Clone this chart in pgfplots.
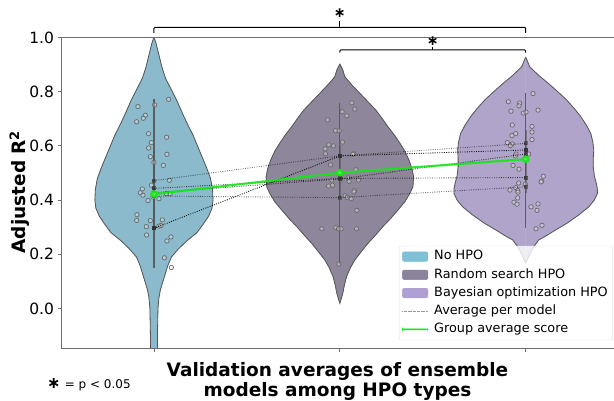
\documentclass[border=0pt]{standalone}
\usepackage{pgfplots}
\pgfplotsset{compat=1.18}
\usepackage{pgfplotstable}
\usepackage{fontspec}
\setmainfont{DejaVu Sans}
\definecolor{vA}{RGB}{138,186,203}
\definecolor{vB}{RGB}{142,135,155}
\definecolor{vC}{RGB}{176,164,203}
\definecolor{lA}{RGB}{128,192,214}
\definecolor{lB}{RGB}{140,130,155}
\definecolor{lC}{RGB}{176,160,210}
\definecolor{spine}{RGB}{110,110,110}
\definecolor{vedge}{RGB}{85,85,85}
\definecolor{grpgreen}{RGB}{20,232,20}
\definecolor{ptedge}{RGB}{105,105,105}
\pgfplotsset{
  patchlegend/.style={legend image code/.code={\draw[##1] (0pt,-4.8pt) rectangle (25.6pt,4.8pt);}},
  linelegend/.style={legend image code/.code={\draw[##1] (0pt,0pt) -- (25.6pt,0pt);}},
  thinpatch/.style={legend image code/.code={\draw[##1] (0pt,-0.55pt) rectangle (25.6pt,0.55pt);}},
}

% violin outlines: y, half width in px (1 x unit = 185.7 px)
\pgfplotstableread{
y w
-0.21 0
-0.20 3.5
-0.10 3.5
0.00 4
0.04 5
0.07 6.5
0.10 9
0.13 11.5
0.16 14
0.19 17.5
0.22 24.5
0.25 33
0.28 43
0.31 49
0.34 54.5
0.37 58
0.40 59
0.44 58.5
0.48 56.5
0.52 52.5
0.56 48
0.60 43.5
0.64 39
0.68 33.5
0.72 28.5
0.77 22.5
0.81 17
0.85 11.5
0.89 8
0.92 6
0.95 4
0.98 2
1.00 0
}\violinA
\pgfplotstableread{
y w
0.019 0
0.056 3
0.085 4.5
0.117 6.7
0.15 10.5
0.179 15
0.21 21.5
0.24 28
0.27 35.5
0.302 43
0.333 51
0.363 58
0.394 65
0.425 70
0.449 73
0.486 73.7
0.517 72
0.548 69
0.58 65
0.61 60
0.64 54.5
0.671 48
0.70 42.5
0.732 36
0.763 28
0.794 20
0.825 12
0.855 5
0.88 3
0.902 0
}\violinB
\pgfplotstableread{
y w
0.168 0
0.20 4
0.228 8
0.253 13
0.265 19
0.29 30
0.314 41
0.345 53
0.375 63
0.40 68.5
0.425 71.7
0.445 71.5
0.462 70.5
0.49 68.5
0.523 67.5
0.555 67.5
0.585 68
0.615 67
0.646 65
0.677 60.5
0.708 55
0.738 48.5
0.769 41
0.80 32
0.831 22.5
0.86 13
0.892 4
0.91 2
0.927 0
}\violinC

% individual points: horizontal offset in px, value
\pgfplotstableread{
dx y
-16 0.745
0.7 0.751
14.7 0.772
-8.6 0.713
-10.6 0.702
-17.3 0.689
-5.3 0.645
12.7 0.632
-2.6 0.612
-5.3 0.592
13 0.569
-3.6 0.560
0 0.539
9.4 0.528
15.4 0.473
-2.6 0.455
-11.6 0.441
-13.6 0.427
-11 0.418
16 0.423
12.4 0.424
-1 0.411
5 0.405
-6 0.398
-17 0.346
-17.3 0.325
-3.6 0.324
8.4 0.327
-7.6 0.302
5 0.304
7 0.306
-7.3 0.271
17 0.264
13 0.249
10.4 0.187
17.4 0.151
}\ptsA
\pgfplotstableread{
dx y
12 0.759
15 0.736
2.3 0.726
7 0.711
-12.3 0.696
-4.3 0.656
-0.7 0.656
2.7 0.614
-11 0.604
-6.3 0.600
-14.7 0.589
-14.3 0.571
14 0.571
13 0.569
-9.3 0.530
16 0.512
8.3 0.482
18.7 0.474
9.3 0.469
1 0.478
-8 0.474
-7.3 0.455
-11.3 0.452
14.7 0.435
14 0.430
5.3 0.416
7.3 0.410
11.3 0.405
17 0.362
-18 0.294
-4 0.298
-1.3 0.294
1.3 0.294
16.7 0.294
-1 0.164
}\ptsB
\pgfplotstableread{
dx y
7.3 0.793
-17.4 0.763
-6 0.758
-6.7 0.748
-14.7 0.728
12.3 0.732
-2.4 0.721
0.3 0.725
-13.4 0.677
6.3 0.672
6.3 0.651
-10 0.645
-13.7 0.638
6.3 0.623
-18.4 0.612
-13.4 0.607
-15.4 0.601
-9.7 0.570
-10.4 0.563
3 0.570
-12.7 0.528
-6.7 0.514
17.6 0.488
16 0.470
15.3 0.467
-7 0.463
-15.7 0.437
-10 0.446
-8 0.436
-7.7 0.429
-0.4 0.459
-8 0.408
-11.7 0.392
-8.7 0.385
5.3 0.375
12.3 0.386
11.3 0.362
16.3 0.307
10.3 0.294
}\ptsC

\pgfplotstableread{
g A B C D E
0 0.472 0.443 0.415 0.427 0.296
1 0.563 0.480 0.409 0.478 0.563
2 0.609 0.483 0.449 0.570 0.585
}\models
\pgfplotstableread{
g avg
0 0.422
1 0.501
2 0.551
}\groupavg

\newcommand{\violin}[3]{%
  \addplot[fill=#3, draw=#3, line width=0.4pt, forget plot] table[x expr={#2+\thisrow{w}/185.7}, y=y] {#1} -- cycle;
  \addplot[fill=#3, draw=#3, line width=0.4pt, forget plot] table[x expr={#2-\thisrow{w}/185.7}, y=y] {#1} -- cycle;
  \addplot[vedge, line width=0.8pt, forget plot] table[x expr={#2+\thisrow{w}/185.7}, y=y] {#1};
  \addplot[vedge, line width=0.8pt, forget plot] table[x expr={#2-\thisrow{w}/185.7}, y=y] {#1};
}
\newcommand{\pts}[2]{%
  \addplot[only marks, mark=*, mark size=2.2pt, forget plot,
    mark options={draw=ptedge, line width=0.7pt, fill=white, fill opacity=0.3}]
    table[x expr={#2+\thisrow{dx}/185.7}, y=y] {#1};
}
\tikzset{mdot/.style={line width=0.9pt, dash pattern=on 0.9pt off 1.4pt, mark=square*, mark size=1.5pt, mark options={solid, fill=black!80, draw=black!80}}}

\begin{document}
\begin{tikzpicture}
\useasboundingbox (0pt,0pt) rectangle (614pt,401pt);
\begin{axis}[
  scale only axis, width=553pt, height=310.8pt,
  at={(61pt,52.7pt)}, anchor=south west,
  xmin=-0.5, xmax=2.475, ymin=-0.147, ymax=1.0,
  axis line style={draw=none},
  xtick={0,1,2}, xticklabels={},
  ytick={0,0.2,0.4,0.6,0.8,1.0},
  yticklabel style={/pgf/number format/.cd, fixed, fixed zerofill, precision=1, assume math mode=true, /tikz/.cd, font=\fontsize{15.5}{18}\selectfont},
  tick align=outside, tick pos=left, major tick length=3.5pt,
  tick style={color=spine, line width=0.8pt},
  clip mode=individual,
  legend cell align=left,
  legend style={at={(0.998,0.026)}, anchor=south east, draw=black!12, fill=white, fill opacity=0.8, text opacity=1, draw opacity=1, rounded corners=2pt, inner xsep=3pt, inner ysep=2.5pt, font=\fontsize{12.8}{15}\selectfont, row sep=2pt, column sep=4pt, nodes={inner sep=2pt, text height=9.3pt, text depth=2.9pt}},
]
\violin{\violinA}{0}{vA}
\violin{\violinB}{1}{vB}
\violin{\violinC}{2}{vC}
% whiskers
\addplot[vedge, line width=1.2pt, opacity=0.9, forget plot] coordinates {(0,0.148) (0,0.773)};
\addplot[vedge, line width=1.2pt, opacity=0.9, forget plot] coordinates {(1,0.164) (1,0.760)};
\addplot[vedge, line width=1.2pt, opacity=0.9, forget plot] coordinates {(2,0.296) (2,0.794)};
\addplot[vedge, line width=1.9pt, opacity=0.6, forget plot] coordinates {(0,0.297) (0,0.580)};
\addplot[vedge, line width=1.9pt, opacity=0.6, forget plot] coordinates {(1,0.408) (1,0.604)};
\addplot[vedge, line width=1.9pt, opacity=0.6, forget plot] coordinates {(2,0.426) (2,0.659)};
\pts{\ptsA}{0}
\pts{\ptsB}{1}
\pts{\ptsC}{2}
\addplot[mdot, black, opacity=0.55, forget plot] table[x=g, y=A] {\models};
\addplot[mdot, black, opacity=0.7, forget plot] table[x=g, y=B] {\models};
\addplot[mdot, black, opacity=0.55, forget plot] table[x=g, y=C] {\models};
\addplot[mdot, black, opacity=0.7, forget plot] table[x=g, y=D] {\models};
\addplot[mdot, black, opacity=0.95, forget plot] table[x=g, y=E] {\models};
\addplot[draw=grpgreen, line width=2.1pt, opacity=0.9, mark=*, mark size=2.8pt, mark options={fill=grpgreen!70!white, draw=grpgreen}, forget plot] table[x=g, y=avg] {\groupavg};
% spines
\draw[spine, line width=0.9pt] (rel axis cs:0,1) -- (rel axis cs:0,0) -- (rel axis cs:1,0);
\draw[spine, line width=0.9pt] (rel axis cs:0,1) -- (rel axis cs:1,1);
% significance brackets
\draw[black, line width=1pt, rounded corners=1pt] (axis cs:0,1.0166) -- (axis cs:0,1.0376) -- (axis cs:2,1.0376) -- (axis cs:2,1.0166);
\draw[black, line width=1pt] (axis cs:1,1.0376) -- (axis cs:1,1.061);
\node[font=\fontsize{14}{15}\bfseries, inner sep=0pt] at (axis cs:1,1.089) {∗};
\draw[black, line width=1pt, rounded corners=1pt] (axis cs:1,0.944) -- (axis cs:1,0.954) -- (axis cs:2,0.954) -- (axis cs:2,0.944);
\draw[black, line width=1pt] (axis cs:1.5,0.954) -- (axis cs:1.5,0.966);
\node[font=\fontsize{14}{15}\bfseries, inner sep=0pt] at (axis cs:1.5,0.987) {∗};
% legend
\addlegendimage{patchlegend, fill=lA, draw=lA, fill opacity=1}
\addlegendentry{No HPO}
\addlegendimage{patchlegend, fill=lB, draw=lB, fill opacity=1}
\addlegendentry{Random search HPO}
\addlegendimage{patchlegend, fill=lC, draw=lC, fill opacity=1}
\addlegendentry{Bayesian optimization HPO}
\addlegendimage{linelegend, draw=black!40, line width=0.5pt, dash pattern=on 0.5pt off 0.8pt}
\addlegendentry{Average per model}
\addlegendimage{thinpatch, fill=grpgreen, draw=grpgreen, line width=0.3pt, fill opacity=1}
\addlegendentry{Group average score}
\end{axis}
\node[rotate=90, anchor=base, font=\fontsize{18.5}{20}\bfseries, inner sep=0pt] at (25.5pt,209pt) {Adjusted R\textsuperscript{2}};
\node[anchor=north, align=center, font=\fontsize{18.5}{20}\bfseries, inner sep=0pt] at (337.5pt,38.5pt) {Validation averages of ensemble\\models among HPO types};
\node[anchor=base west, font=\fontsize{12}{14}\selectfont, inner sep=0pt] at (47pt,12.7pt) {{\fontsize{16}{16}\bfseries ∗}\hspace{0.35em}= p < 0.05};
\end{tikzpicture}
\end{document}
